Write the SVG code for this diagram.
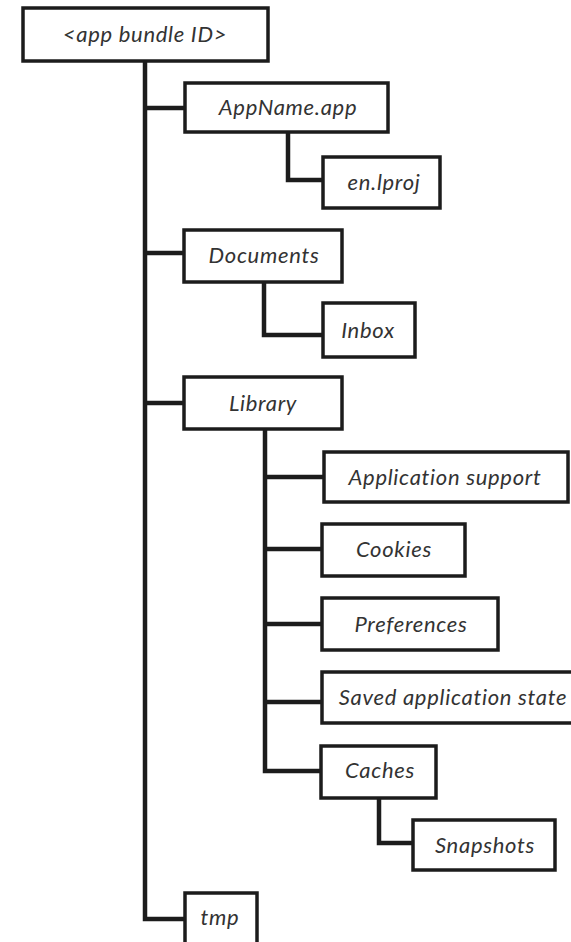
<svg xmlns="http://www.w3.org/2000/svg" width="571" height="942" viewBox="0 0 571 942">
<style>
.box{fill:#fff;stroke:#1c1c1c;stroke-width:3.5}
.lbl{font-family:Lato,"Open Sans","Liberation Sans",sans-serif;font-style:italic;font-size:22px;letter-spacing:0.7px;fill:#333;text-anchor:middle}
.con{fill:none;stroke:#1c1c1c;stroke-width:4.5;stroke-linejoin:miter;stroke-linecap:butt}
</style>
<rect width="571" height="942" fill="#fff"/>
<g id="connectors">
<path class="con" d="M145 61 V919 H185"/>
<path class="con" d="M145 108 H185 M145 253 H184 M145 403 H184"/>
<path class="con" d="M288 132 V180 H323"/>
<path class="con" d="M264 282 V335 H323"/>
<path class="con" d="M265 429 V771 H321 M265 477 H324 M265 549 H322 M265 624 H322 M265 702 H322"/>
<path class="con" d="M379 798 V843 H413"/>
</g>
<g id="root"><rect class="box" x="23" y="8" width="245" height="53"/><text class="lbl" x="145" y="42">&lt;app bundle ID&gt;</text></g>
<g id="appname"><rect class="box" x="185" y="83" width="203" height="49"/><text class="lbl" x="288" y="115">AppName.app</text></g>
<g id="enlproj"><rect class="box" x="323" y="157" width="117" height="51"/><text class="lbl" x="384" y="190">en.lproj</text></g>
<g id="documents"><rect class="box" x="184" y="230" width="158" height="52"/><text class="lbl" x="264" y="263">Documents</text></g>
<g id="inbox"><rect class="box" x="323" y="303" width="92" height="54"/><text class="lbl" x="368" y="338">Inbox</text></g>
<g id="library"><rect class="box" x="184" y="377" width="158" height="52"/><text class="lbl" x="263" y="411">Library</text></g>
<g id="appsupport"><rect class="box" x="324" y="452" width="244" height="50"/><text class="lbl" x="445" y="485">Application support</text></g>
<g id="cookies"><rect class="box" x="322" y="524" width="143" height="52"/><text class="lbl" x="394" y="557">Cookies</text></g>
<g id="preferences"><rect class="box" x="322" y="598" width="176" height="52"/><text class="lbl" x="411" y="632">Preferences</text></g>
<g id="savedstate"><rect class="box" x="322" y="672" width="260" height="51"/><text class="lbl" x="453" y="705">Saved application state</text></g>
<g id="caches"><rect class="box" x="321" y="746" width="115" height="52"/><text class="lbl" x="380" y="778">Caches</text></g>
<g id="snapshots"><rect class="box" x="413" y="820" width="142" height="50"/><text class="lbl" x="485" y="853">Snapshots</text></g>
<g id="tmp"><rect class="box" x="185" y="893" width="72" height="60"/><text class="lbl" x="220" y="925">tmp</text></g>
</svg>
